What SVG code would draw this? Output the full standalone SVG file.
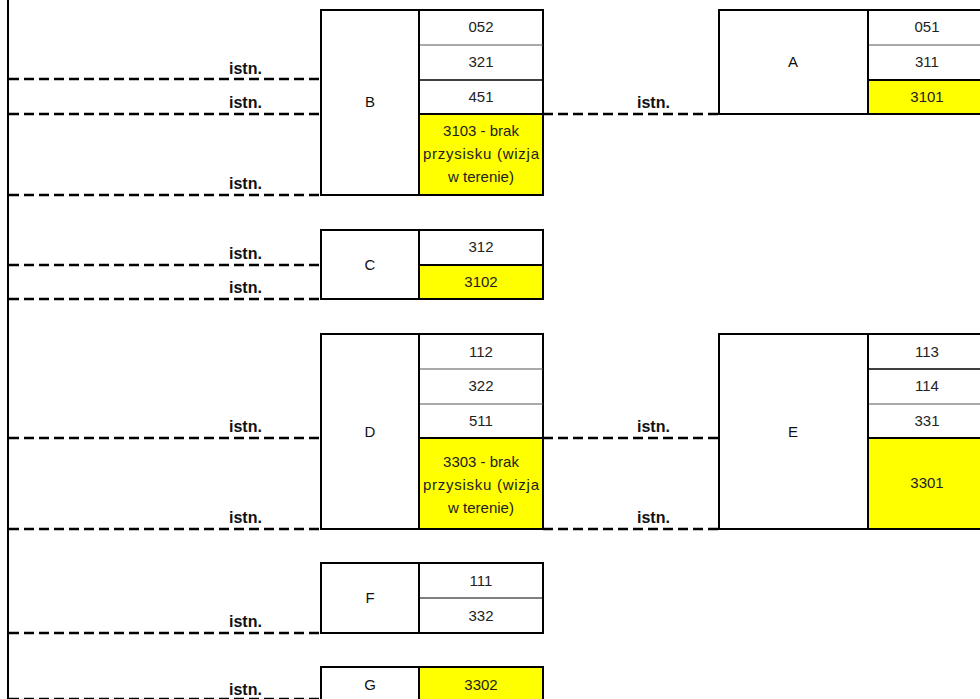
<svg xmlns="http://www.w3.org/2000/svg" width="980" height="699" viewBox="0 0 980 699">
<style>
.box{fill:#fff;stroke:#000;stroke-width:2}
.y{fill:#ffff00;stroke:#000;stroke-width:2}
.sep{stroke:#555;stroke-width:1}
.dash{stroke:#000;stroke-width:2.5;stroke-dasharray:10 5;fill:none}
.lbl{font-family:"Liberation Sans",Arial,sans-serif;font-size:15px;text-anchor:middle;fill:#111}
.num{font-family:"Liberation Sans",Arial,sans-serif;font-size:15px;text-anchor:middle;fill:#222}
.istn{font-family:"Liberation Sans",Arial,sans-serif;font-size:16px;font-weight:bold;fill:#111}
</style>
<rect x="0" y="0" width="980" height="699" fill="#fff"/>
<line x1="8" y1="0" x2="8" y2="699" stroke="#000" stroke-width="2"/>
<g id="connectors">
<line class="dash" x1="9" y1="79" x2="321" y2="79"/>
<line class="dash" x1="9" y1="114" x2="321" y2="114"/>
<line class="dash" x1="9" y1="195" x2="321" y2="195"/>
<line class="dash" x1="543" y1="114" x2="719" y2="114"/>
<line class="dash" x1="9" y1="265" x2="321" y2="265"/>
<line class="dash" x1="9" y1="299" x2="321" y2="299"/>
<line class="dash" x1="9" y1="438" x2="321" y2="438"/>
<line class="dash" x1="9" y1="529" x2="321" y2="529"/>
<line class="dash" x1="543" y1="438" x2="719" y2="438"/>
<line class="dash" x1="543" y1="529" x2="719" y2="529"/>
<line class="dash" x1="9" y1="633" x2="321" y2="633"/>
<line class="dash" x1="9" y1="699" x2="321" y2="699"/>
<text class="istn" x="229" y="74">istn.</text>
<text class="istn" x="229" y="108">istn.</text>
<text class="istn" x="229" y="189">istn.</text>
<text class="istn" x="637" y="108">istn.</text>
<text class="istn" x="229" y="259">istn.</text>
<text class="istn" x="229" y="293">istn.</text>
<text class="istn" x="229" y="432">istn.</text>
<text class="istn" x="229" y="523">istn.</text>
<text class="istn" x="637" y="432">istn.</text>
<text class="istn" x="637" y="523">istn.</text>
<text class="istn" x="229" y="627">istn.</text>
<text class="istn" x="229" y="695">istn.</text>
</g>
<g id="B">
<rect class="box" x="321" y="10" width="222" height="185"/>
<rect class="y" x="419" y="114" width="124" height="81"/>
<line class="sep" x1="419" y1="45" x2="543" y2="45"/>
<line x1="419" y1="80" x2="543" y2="80" stroke="#000" stroke-width="1.5"/>
<line x1="419" y1="10" x2="419" y2="195" stroke="#000" stroke-width="2"/>
<text class="lbl" x="370" y="107">B</text>
<text class="num" x="481" y="32">052</text>
<text class="num" x="481" y="67">321</text>
<text class="num" x="481" y="102">451</text>
<text class="num" x="481" y="136">3103 - brak</text>
<text class="num" x="481" y="159" textLength="116" lengthAdjust="spacing">przysisku (wizja</text>
<text class="num" x="481" y="182">w terenie)</text>
</g>
<g id="A">
<rect class="box" x="719" y="10" width="270" height="104"/>
<rect class="y" x="868" y="80" width="121" height="34"/>
<line class="sep" x1="868" y1="45" x2="989" y2="45"/>
<line x1="868" y1="10" x2="868" y2="114" stroke="#000" stroke-width="2"/>
<text class="lbl" x="793" y="67">A</text>
<text class="num" x="927" y="32">051</text>
<text class="num" x="927" y="67">311</text>
<text class="num" x="927" y="102">3101</text>
</g>
<g id="C">
<rect class="box" x="321" y="230" width="222" height="69"/>
<rect class="y" x="419" y="265" width="124" height="34"/>
<line x1="419" y1="230" x2="419" y2="299" stroke="#000" stroke-width="2"/>
<text class="lbl" x="370" y="270">C</text>
<text class="num" x="481" y="252">312</text>
<text class="num" x="481" y="287">3102</text>
</g>
<g id="D">
<rect class="box" x="321" y="334" width="222" height="195"/>
<rect class="y" x="419" y="438" width="124" height="91"/>
<line class="sep" x1="419" y1="369" x2="543" y2="369"/>
<line class="sep" x1="419" y1="404" x2="543" y2="404"/>
<line x1="419" y1="334" x2="419" y2="529" stroke="#000" stroke-width="2"/>
<text class="lbl" x="370" y="437">D</text>
<text class="num" x="481" y="357">112</text>
<text class="num" x="481" y="391">322</text>
<text class="num" x="481" y="426">511</text>
<text class="num" x="481" y="467">3303 - brak</text>
<text class="num" x="481" y="490" textLength="116" lengthAdjust="spacing">przysisku (wizja</text>
<text class="num" x="481" y="513">w terenie)</text>
</g>
<g id="E">
<rect class="box" x="719" y="334" width="270" height="195"/>
<rect class="y" x="868" y="438" width="121" height="91"/>
<line x1="868" y1="369" x2="989" y2="369" stroke="#000" stroke-width="1.5"/>
<line class="sep" x1="868" y1="404" x2="989" y2="404"/>
<line x1="868" y1="334" x2="868" y2="529" stroke="#000" stroke-width="2"/>
<text class="lbl" x="793" y="437">E</text>
<text class="num" x="927" y="357">113</text>
<text class="num" x="927" y="391">114</text>
<text class="num" x="927" y="426">331</text>
<text class="num" x="927" y="488">3301</text>
</g>
<g id="F">
<rect class="box" x="321" y="563" width="222" height="70"/>
<line x1="419" y1="598" x2="543" y2="598" stroke="#000" stroke-width="1"/>
<line x1="419" y1="563" x2="419" y2="633" stroke="#000" stroke-width="2"/>
<text class="lbl" x="370" y="603">F</text>
<text class="num" x="481" y="586">111</text>
<text class="num" x="481" y="621">332</text>
</g>
<g id="G">
<rect class="box" x="321" y="667" width="222" height="40"/>
<rect class="y" x="419" y="667" width="124" height="40"/>
<text class="lbl" x="370" y="690">G</text>
<text class="num" x="481" y="690">3302</text>
</g>
</svg>
